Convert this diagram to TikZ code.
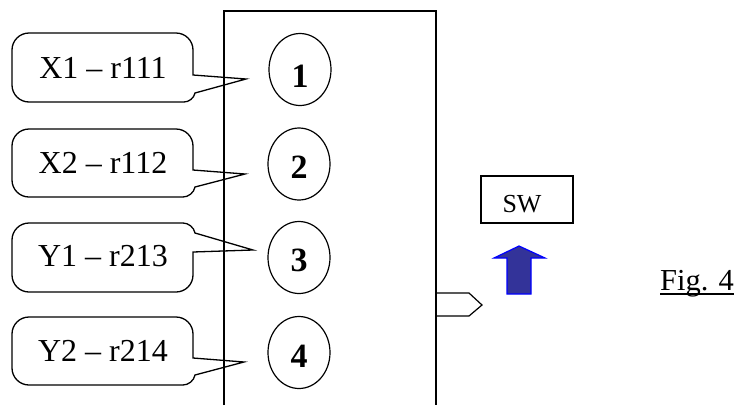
\documentclass[tikz,border=0pt]{standalone}
\usepackage{fontspec}
\setmainfont{Liberation Serif}
\usetikzlibrary{shapes.geometric}
\definecolor{arrowfill}{HTML}{333399}
\begin{document}
\begin{tikzpicture}[x=1pt,y=-1pt,
  frame/.style={line width=1.5pt},
  callout/.style={line width=1.3pt, line join=miter},
  ringnode/.style={ellipse, draw, line width=1.2pt, minimum width=62pt, minimum height=72pt, inner sep=0pt},
  numtext/.style={font=\fontsize{34}{34}\selectfont\bfseries, inner sep=0pt},
  lbltext/.style={font=\fontsize{32}{32}\selectfont, inner sep=0pt},
  captext/.style={font=\fontsize{30.5}{30.5}\selectfont, inner sep=0pt},
  swbox/.style={draw, line width=1.3pt, minimum width=92pt, minimum height=47pt, inner sep=0pt},
  bluearrow/.style={fill=arrowfill, draw=blue, line width=1.2pt, line join=miter}
]
\useasboundingbox (0,0) rectangle (737,405);
% main block (bottom edge outside the picture)
\coordinate (bl) at (224,405);
\coordinate (tl) at (224,11);
\coordinate (tr) at (436,11);
\coordinate (br) at (436,405);
\draw[frame] (bl) -- (tl) -- (tr) -- (br);

% callouts
\draw[callout] (246,79) [sharp corners]-- (195,93) [rounded corners=9]-- (193,102) [rounded corners=17]-- (12,102) -- (12,33) -- (193,33) [sharp corners]-- (193,75) -- cycle;
\draw[callout] (245,174) [sharp corners]-- (195,187) [rounded corners=10]-- (193,197) [rounded corners=17]-- (12,197) -- (12,129) -- (193,129) [sharp corners]-- (193,170) -- cycle;
\draw[callout] (253,250) [sharp corners]-- (193,252) -- (193,275) [rounded corners=17]-- (193,292) -- (12,292) -- (12,223) [rounded corners=10]-- (193,223) [sharp corners]-- (195,233) -- cycle;
\draw[callout] (244,362) [sharp corners]-- (195,375) [rounded corners=10]-- (193,385) [rounded corners=17]-- (12,385) -- (12,317) -- (193,317) [sharp corners]-- (193,358) -- cycle;

\node[lbltext] (t1) at (103,67.5) {X1 – r111};
\node[lbltext] (t2) at (103,163) {X2 – r112};
\node[lbltext] (t3) at (103,256) {Y1 – r213};
\node[lbltext] (t4) at (103,351) {Y2 – r214};

% numbered circles
\node[ringnode] (c1) at (300,69.5) {};
\node[ringnode] (c2) at (299,164) {};
\node[ringnode] (c3) at (299,257.5) {};
\node[ringnode] (c4) at (299,352.5) {};
\node[numtext] (n1) at (300,76) {1};
\node[numtext] (n2) at (299,167.5) {2};
\node[numtext] (n3) at (299,260.5) {3};
\node[numtext] (n4) at (299,356) {4};

% output connector
\coordinate (o1) at (436,293);
\coordinate (o2) at (469,293);
\coordinate (o3) at (482,305);
\coordinate (o4) at (469,316);
\coordinate (o5) at (436,316);
\draw[line width=1.2pt] (o1) -- (o2) -- (o3) -- (o4) -- (o5);

% SW box
\node[swbox] (sw) at (527,199.5) {};
\node[font=\fontsize{26}{26}\selectfont, inner sep=0pt, anchor=base] (swt) at (522,212) {SW};

% blue arrow
\draw[bluearrow] (519,246) -- (545,258) -- (531,258) -- (531,294) -- (507,294) -- (507,258) -- (494,258) -- cycle;

% caption
\node[captext, anchor=base west] (fig) at (660,290) {Fig. 4};
\draw[line width=1.4pt] ([yshift=-4pt]fig.base west) -- ([yshift=-4pt]fig.base east);
\end{tikzpicture}
\end{document}
